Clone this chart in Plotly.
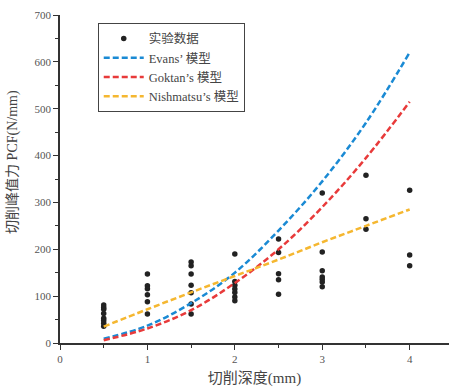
import plotly.graph_objects as go

# experimental data
exp_x = [0.5]*8 + [1.0]*6 + [1.5]*7 + [2.0]*7 + [2.5]*5 + [3.0]*7 + [3.5]*3 + [4.0]*3
exp_y = [81, 76, 72, 63, 53, 48, 42, 36,
         147, 122, 116, 103, 88, 62,
         173, 165, 147, 123, 107, 83, 62,
         190, 131, 123, 115, 108, 98, 90,
         222, 193, 148, 135, 104,
         320, 194, 154, 141, 136, 130, 120,
         358, 265, 243,
         326, 188, 165]

model_x = [0.5, 1.0, 1.5, 2.0, 2.5, 3.0, 3.5, 4.0]
evans_y = [9, 37, 85, 150, 240, 345, 470, 620]
goktan_y = [6, 31, 70, 128, 200, 290, 395, 515]
nish_y = [35, 72, 108, 143, 178, 215, 250, 285]

names = ["实验数据", "Evans’ 模型", "Goktan’s 模型", "Nishmatsu’s 模型"]
x_title = "切削深度(mm)"
y_title = "切削峰值力 PCF(N/mm)"
font_fam = "Liberation Serif, Noto Sans CJK SC, serif"

fig = go.Figure()
fig.add_trace(go.Scatter(x=exp_x, y=exp_y, mode="markers", name=names[0],
                         marker=dict(size=5.5, color="#222222")))
for ys, nm, col in [(evans_y, names[1], "#1a8ad4"),
                    (goktan_y, names[2], "#e83a3a"),
                    (nish_y, names[3], "#f5b730")]:
    fig.add_trace(go.Scatter(x=model_x, y=ys, mode="lines", name=nm,
                             line=dict(color=col, width=2.5, dash="6px,3px", shape="spline")))

axis_common = dict(showline=True, linecolor="#333333", linewidth=1.5, ticks="outside",
                   ticklen=5, tickcolor="#333333", showgrid=False, zeroline=False,
                   tickfont=dict(family=font_fam, size=11, color="#555555"))

fig.update_layout(
    width=453, height=387,
    margin=dict(l=60, r=4, t=15, b=44),
    paper_bgcolor="white", plot_bgcolor="white",
    font=dict(family=font_fam, color="#333333"),
    xaxis=dict(range=[0, 4.45], dtick=1, tick0=0,
               minor=dict(dtick=0.5, ticklen=3, ticks="outside", tickcolor="#333333"),
               title=dict(text=x_title, font=dict(size=15, color="#444444"), standoff=9),
               **axis_common),
    yaxis=dict(range=[0, 700], dtick=100, tick0=0,
               minor=dict(dtick=50, ticklen=3, ticks="outside", tickcolor="#333333"),
               **axis_common),
    legend=dict(x=0.097, y=0.976, xanchor="left", yanchor="top",
                bordercolor="#444444", borderwidth=1, bgcolor="white",
                font=dict(size=12.5, family=font_fam, color="#444444"),
                itemwidth=40, tracegroupgap=0),
    showlegend=True,
    annotations=[dict(text=y_title, xref="paper", yref="paper", x=-0.121, y=0.552,
                      xanchor="center", yanchor="middle", textangle=-90, showarrow=False,
                      font=dict(size=14, family=font_fam, color="#444444"))],
)

fig.write_html("out.html")
